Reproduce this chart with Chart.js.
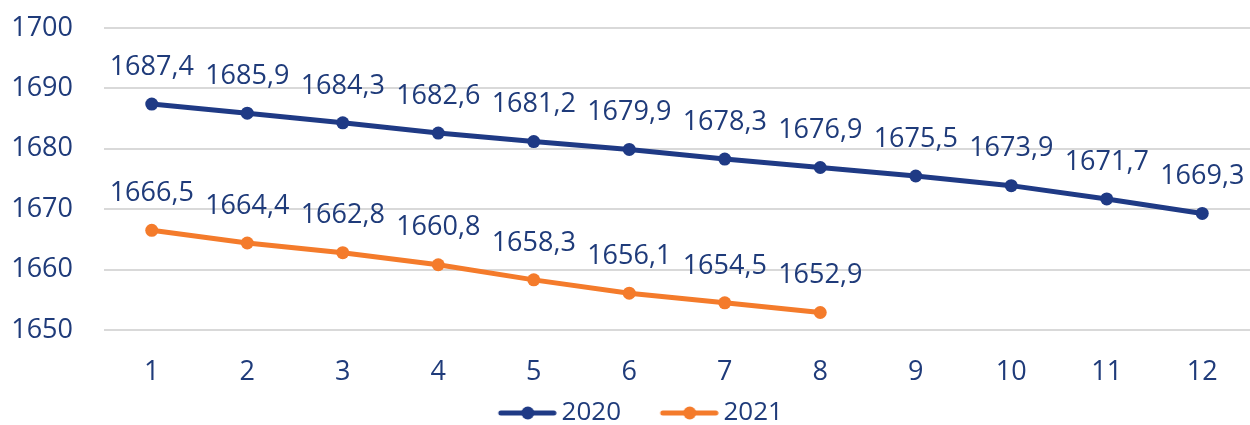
<!DOCTYPE html>
<html>
<head>
<meta charset="utf-8">
<script src="https://cdn.jsdelivr.net/npm/chart.js@4"></script>
<style>
  html, body { margin: 0; padding: 0; background: #fff; }
  #wrap { width: 1250px; height: 425px; }
</style>
</head>
<body>
<div id="wrap"><canvas id="chart"></canvas></div>
<script>
var months = ['1', '2', '3', '4', '5', '6', '7', '8', '9', '10', '11', '12'];
var values2020 = [1687.4, 1685.9, 1684.3, 1682.6, 1681.2, 1679.9, 1678.3, 1676.9, 1675.5, 1673.9, 1671.7, 1669.3];
var values2021 = [1666.5, 1664.4, 1662.8, 1660.8, 1658.3, 1656.1, 1654.5, 1652.9];
var seriesNames = ['2020', '2021'];

var blue = '#1f3a85';
var orange = '#f47b2b';
var textColor = '#1f3b7a';
var fontFamily = "'Open Sans', sans-serif";

// legend sample: line with a dot, drawn into a small canvas
function legendMark(color) {
    var c = document.createElement('canvas');
    c.width = 106;
    c.height = 16;
    var g = c.getContext('2d');
    g.strokeStyle = color;
    g.lineWidth = 5;
    g.lineCap = 'round';
    g.beginPath();
    g.moveTo(c.width - 56, 8);
    g.lineTo(c.width - 3, 8);
    g.stroke();
    g.fillStyle = color;
    g.beginPath();
    g.arc(c.width - 29, 8, 6.5, 0, Math.PI * 2);
    g.fill();
    return c;
}

var valueLabels = {
    id: 'valueLabels',
    afterDatasetsDraw: function(chart) {
        var ctx = chart.ctx;
        ctx.save();
        ctx.font = '27px ' + fontFamily;
        ctx.fillStyle = textColor;
        ctx.textAlign = 'center';
        ctx.textBaseline = 'middle';
        chart.data.datasets.forEach(function(ds, i) {
            chart.getDatasetMeta(i).data.forEach(function(pt, j) {
                ctx.fillText(ds.data[j].toFixed(1).replace('.', ','), pt.x, pt.y - 37);
            });
        });
        ctx.restore();
    }
};

var moveLegend = {
    id: 'moveLegend',
    afterLayout: function(chart) {
        chart.legend.top += 11;
        chart.legend.bottom += 11;
        chart.legend.left -= 4;
        chart.legend.right -= 4;
    }
};

var ctx = document.getElementById('chart').getContext('2d');
var chart = new Chart(ctx, {
    type: 'line',
    data: {
        labels: months,
        datasets: [{
            label: seriesNames[0],
            data: values2020,
            borderColor: blue,
            backgroundColor: blue,
            borderWidth: 5,
            pointRadius: 6.5,
            pointBackgroundColor: blue,
            pointBorderWidth: 0
        }, {
            label: seriesNames[1],
            data: values2021,
            borderColor: orange,
            backgroundColor: orange,
            borderWidth: 5,
            pointRadius: 6.5,
            pointBackgroundColor: orange,
            pointBorderWidth: 0
        }]
    },
    options: {
        responsive: true,
        maintainAspectRatio: false,
        animation: false,
        elements: { line: { tension: 0 } },
        layout: { autoPadding: false, padding: { top: 28, left: 0, right: 0, bottom: 0 } },
        scales: {
            x: {
                offset: true,
                grid: { display: false, drawTicks: false, offset: true },
                border: { display: false },
                ticks: { color: textColor, font: { family: fontFamily, size: 27 }, padding: 26 },
                afterFit: function(scale) {
                    scale.height = 59;
                    scale.paddingLeft = 0;
                    scale.paddingRight = 0;
                }
            },
            y: {
                min: 1650,
                max: 1700,
                grid: { color: '#d9d9d9', lineWidth: 2, drawTicks: false },
                border: { display: false },
                ticks: {
                    stepSize: 10,
                    color: textColor,
                    font: { family: fontFamily, size: 27 },
                    padding: 31,
                    callback: function(v) { return String(v); }
                },
                afterFit: function(scale) {
                    scale.width = 104;
                    scale.paddingTop = 16;
                    scale.paddingBottom = 16;
                }
            }
        },
        plugins: {
            title: { display: false },
            tooltip: { enabled: false },
            legend: {
                position: 'bottom',
                labels: {
                    usePointStyle: true,
                    pointStyleWidth: 89.5,
                    padding: 0,
                    color: textColor,
                    font: { family: fontFamily, size: 26 },
                    generateLabels: function(chart) {
                        return chart.data.datasets.map(function(ds, i) {
                            return {
                                text: ds.label,
                                pointStyle: legendMark(ds.borderColor),
                                fontColor: textColor,
                                lineWidth: 0,
                                datasetIndex: i
                            };
                        });
                    }
                }
            }
        }
    },
    plugins: [valueLabels, moveLegend]
});
</script>
</body>
</html>
